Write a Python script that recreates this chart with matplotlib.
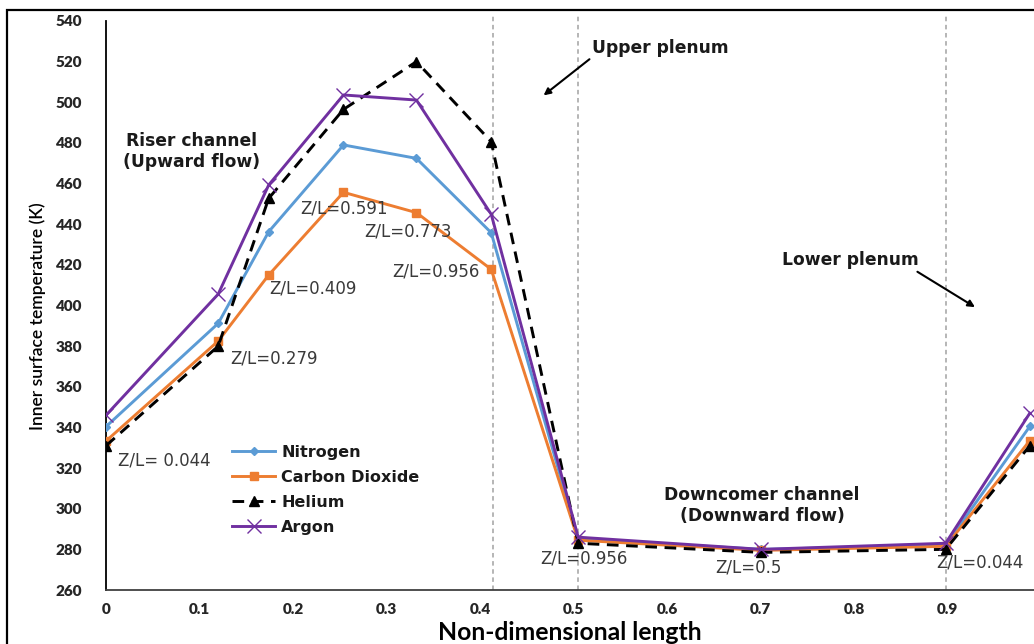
import matplotlib
matplotlib.use("Agg")
import matplotlib.pyplot as plt
from matplotlib.patches import Rectangle

# Non-dimensional position along the loop
length = [0.0, 0.120, 0.174, 0.254, 0.332, 0.412, 0.505, 0.701, 0.898, 0.988]

# Inner surface temperature (K) for each working gas
nitrogen = [340.4, 391.2, 436.3, 479.0, 472.4, 435.8, 285.0, 280.0, 282.0, 340.5]
carbon_dioxide = [333.3, 382.5, 415.0, 455.7, 445.7, 417.8, 284.5, 279.5, 281.5, 333.5]
helium = [331.0, 380.0, 452.7, 496.5, 520.0, 480.6, 283.0, 278.5, 280.0, 331.0]
argon = [346.0, 405.6, 459.3, 503.6, 501.1, 444.9, 286.0, 280.0, 283.0, 347.0]

series_names = ["Nitrogen", "Carbon Dioxide", "Helium", "Argon"]

# Section boundaries (dotted verticals)
boundaries = [0.414, 0.505, 0.898]

# Local Z/L labels
zl_texts = ["Z/L= 0.044", "Z/L=0.279", "Z/L=0.409", "Z/L=0.591", "Z/L=0.773",
            "Z/L=0.956", "Z/L=0.956", "Z/L=0.5", "Z/L=0.044"]
zl_pos = [(0.013, 323.5), (0.133, 373.7), (0.175, 408.6), (0.2075, 447.5),
          (0.276, 436.2), (0.306, 416.5), (0.464, 275.7), (0.652, 271.3),
          (0.888, 273.3)]

W, H = 1034, 644
fig = plt.figure(figsize=(W / 100, H / 100), dpi=100)
fig.patch.set_facecolor("white")

# plot area in pixels: x 106 -> 1041, y 21 -> 590 (top-down)
left_px, right_px, top_px, bot_px = 106, 1041, 21, 590
ax = fig.add_axes([left_px / W, (H - bot_px) / H,
                   (right_px - left_px) / W, (bot_px - top_px) / H])
ax.set_xlim(0, 1)
ax.set_ylim(260, 540)

# outer frame of the chart area
fig.patches.append(Rectangle((7 / W, -0.2), 1.3, (H - 10) / H + 0.2,
                             transform=fig.transFigure, fill=False,
                             edgecolor="black", linewidth=1.6, clip_on=False))

for xb in boundaries:
    ax.plot([xb, xb], [260, 543.5], color="#b0b0b0", lw=1.3,
            linestyle=(0, (2.5, 2)), clip_on=False, zorder=1)

lw = 2.1
ax.plot(length, nitrogen, color="#5B9BD5", lw=lw, marker="D", ms=4.5,
        label=series_names[0], zorder=3)
ax.plot(length, carbon_dioxide, color="#ED7D31", lw=lw, marker="s", ms=6,
        label=series_names[1], zorder=4)
ax.plot(length, helium, color="black", lw=lw, linestyle=(0, (4, 2.6)),
        marker="^", ms=6.5, label=series_names[2], zorder=5)
ax.plot(length, argon, color="#7030A0", lw=lw, marker="x", ms=10, mew=1.0,
        label=series_names[3], zorder=6)

for s in ["top", "right"]:
    ax.spines[s].set_visible(False)
ax.spines["left"].set_color("black")
ax.spines["left"].set_linewidth(1.3)
ax.spines["bottom"].set_color("#404040")
ax.spines["bottom"].set_linewidth(1.3)

ax.set_yticks(range(260, 541, 20))
ax.set_xticks([0, 0.1, 0.2, 0.3, 0.4, 0.5, 0.6, 0.7, 0.8, 0.9, 1.0])
ax.set_xticklabels(["0", "0.1", "0.2", "0.3", "0.4", "0.5", "0.6", "0.7",
                    "0.8", "0.9", "1"])
ax.tick_params(axis="both", length=0)
ax.tick_params(axis="y", pad=17)
ax.tick_params(axis="x", pad=9)
for lab in ax.get_xticklabels() + ax.get_yticklabels():
    lab.set_fontfamily("Lato")
    lab.set_fontweight("heavy")
    lab.set_fontsize(11)
    lab.set_color("#262626")

ax.text(-68 / 935, (bot_px - 316) / 569, "Inner surface temperature (K)",
        transform=ax.transAxes, rotation=90, ha="center", va="center",
        fontfamily="Lato", fontweight="semibold", fontsize=12.6, color="black")
ax.text((570 - left_px) / 935, -43 / 569, "Non-dimensional length",
        transform=ax.transAxes, ha="center", va="center", fontfamily="Lato",
        fontweight="bold", fontsize=17.8, color="black", clip_on=False)

for t, (x, y) in zip(zl_texts, zl_pos):
    ax.text(x, y, t, ha="left", va="center", fontfamily="DejaVu Sans",
            fontsize=12, color="#3a3a3a", zorder=7)

bold = dict(fontfamily="DejaVu Sans", fontweight="bold", fontsize=12.3,
            color="#1a1a1a", zorder=7)
ax.text(0.092, 475.8, "Riser channel\n(Upward flow)", ha="center", va="center",
        linespacing=1.25, **bold)
ax.text(0.7016, 301.6, "Downcomer channel\n(Downward flow)", ha="center",
        va="center", linespacing=1.25, **bold)
ax.annotate("Upper plenum", xy=(0.468, 503.4), xytext=(0.5786 + 0.0145, 526.7),
            ha="center", va="center",
            arrowprops=dict(arrowstyle="-|>", color="black", lw=1.5,
                            mutation_scale=10, shrinkA=0, shrinkB=0,
                            relpos=(0.0, 0.0)),
            **bold)
ax.annotate("Lower plenum", xy=(0.9294, 399.2), xytext=(0.7957, 422.4),
            ha="center", va="center",
            arrowprops=dict(arrowstyle="-|>", color="black", lw=1.5,
                            mutation_scale=10, shrinkA=0, shrinkB=0,
                            relpos=(0.96, 0.0)),
            **bold)

leg = ax.legend(loc="upper left", bbox_to_anchor=((224 - left_px) / 935, (bot_px - 437) / 569),
                frameon=False, borderpad=0, handlelength=2.7, handletextpad=0.38,
                labelspacing=0.62, prop=dict(family="DejaVu Sans", weight="bold", size=11.5))
for txt in leg.get_texts():
    txt.set_color("#1a1a1a")

fig.savefig("out.png", dpi=100)
